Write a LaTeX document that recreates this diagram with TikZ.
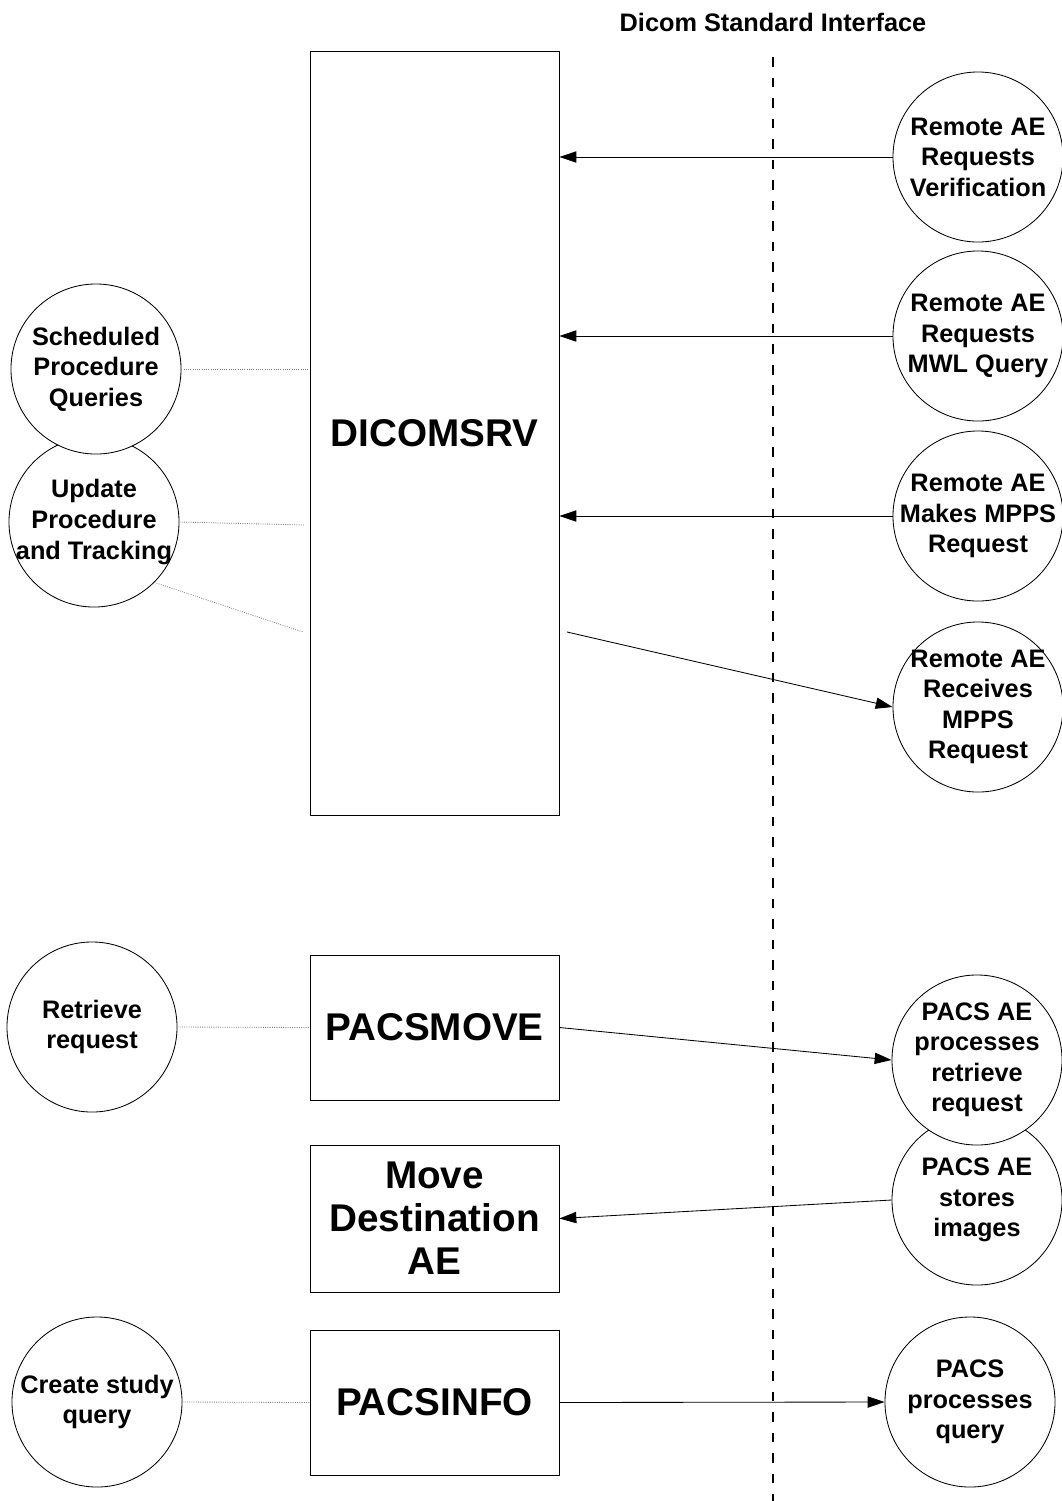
\documentclass[tikz,border=0pt]{standalone}
\usepackage{fontspec}
\setmainfont{Liberation Sans}
\usetikzlibrary{arrows.meta}
\begin{document}
\begin{tikzpicture}[
    x=0.025cm, y=-0.025cm,
    every node/.style={align=center},
    txt/.style={font=\fontsize{18}{21.7}\selectfont\bfseries},
    big/.style={font=\fontsize{27.5}{30.6}\selectfont\bfseries},
    unit/.style={draw, line width=0.6pt, big,
      minimum width=6.225cm, inner sep=0pt},
    actor/.style={draw, fill=white, line width=0.6pt, circle,
      minimum size=4.25cm, inner sep=0pt, label={[txt]center:#1}},
    msg/.style={line width=0.6pt, -{Triangle[length=12pt,width=8pt]}},
    link/.style={densely dotted, gray, line width=0.6pt}
  ]
  \useasboundingbox (0,0) rectangle (1062,1501);
    \node[txt] (title) at (773,22) {Dicom Standard Interface};
    \coordinate (itop) at (773,57);
    \coordinate (ibot) at (773,1501);
    \draw[line width=2.1pt, dash pattern=on 6.8pt off 7.8pt] (itop) -- (ibot);

    \node[unit, minimum height=19.075cm] (dicomsrv) at (434.5,433.5) {DICOMSRV};
    \node[unit, minimum height=3.625cm] (pacsmove) at (434.5,1027.5) {PACSMOVE};
    \node[unit, minimum height=3.675cm] (movedest) at (434.5,1218.5)
      {Move\\Destination\\AE};
    \node[unit, minimum height=3.625cm] (pacsinfo) at (434.5,1402.5) {PACSINFO};

    \node[actor={Update\\Procedure\\and Tracking}] (update) at (94,522) {};
    \node[actor={Scheduled\\Procedure\\Queries}] (sched) at (96,369) {};
    \node[actor={Retrieve\\request}] (retrieve) at (92,1027) {};
    \node[actor={Create study\\query}] (create) at (97,1402) {};

    \node[actor={Remote AE\\Requests\\Verification}] (verif) at (978,157) {};
    \node[actor={Remote AE\\Requests\\MWL Query}] (mwl) at (978,336) {};
    \node[actor={Remote AE\\Makes MPPS\\Request}] (mkmpps) at (978,516) {};
    \node[actor={Remote AE\\Receives\\MPPS\\Request}] (rcmpps) at (978,707) {};
    \node[actor={PACS AE\\stores\\images}] (pacsstore) at (977,1200) {};
    \node[actor={PACS AE\\processes\\retrieve\\request}] (pacsret) at (977,1060) {};
    \node[actor={PACS\\processes\\query}] (pacsquery) at (970,1402) {};

    \coordinate (srvout) at (567,632);
    \coordinate (updin) at (305,525);
    \coordinate (updin2) at (303,632);

    \draw[msg] (verif.west) -- (verif.west -| dicomsrv.east);
    \draw[msg] (mwl.west) -- (mwl.west -| dicomsrv.east);
    \draw[msg] (mkmpps.west) -- (mkmpps.west -| dicomsrv.east);
    \draw[msg] (srvout) -- (rcmpps.west);
    \draw[msg] (pacsmove.east) -- (pacsret.west);
    \draw[msg] (pacsstore.west) -- (movedest.east);
    \draw[msg] (pacsinfo.east) -- (pacsquery.west);

    \draw[link] (sched.east) -- (sched.east -| dicomsrv.west);
    \draw[link] (update.east) -- (updin);
    \draw[link] (update.-45) -- (updin2);
    \draw[link] (retrieve.east) -- (pacsmove.west);
    \draw[link] (create.east) -- (pacsinfo.west);
\end{tikzpicture}
\end{document}
